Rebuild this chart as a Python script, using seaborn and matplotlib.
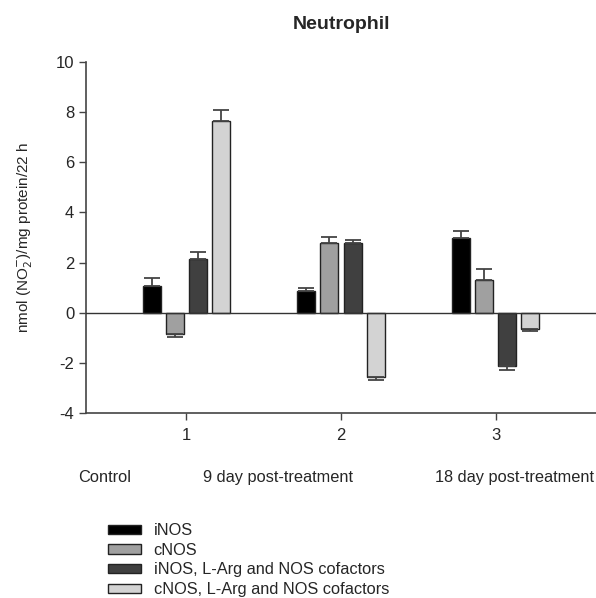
import numpy as np
import pandas as pd
import seaborn as sns
from matplotlib import pyplot as plt

groups = ['1', '2', '3']
group_names = ['Control', '9 day post-treatment', '18 day post-treatment']
series = ['iNOS', 'cNOS', 'iNOS, L-Arg and NOS cofactors', 'cNOS, L-Arg and NOS cofactors']
inos = [1.08, 0.85, 2.99]
cnos = [-0.86, 2.77, 1.29]
inos_arg = [2.14, 2.77, -2.13]
cnos_arg = [7.66, -2.55, -0.64]
inos_err = [0.32, 0.13, 0.27]
cnos_err = [0.11, 0.25, 0.45]
inos_arg_err = [0.28, 0.13, 0.16]
cnos_arg_err = [0.44, 0.14, 0.09]

vals = [inos, cnos, inos_arg, cnos_arg]
errs = [inos_err, cnos_err, inos_arg_err, cnos_arg_err]
df = pd.DataFrame({
    'group': [g for s in series for g in groups],
    'series': [s for s in series for g in groups],
    'value': [v for vs in vals for v in vs],
})
colors = {'iNOS': '#000000', 'cNOS': '#a0a0a0',
          'iNOS, L-Arg and NOS cofactors': '#404040',
          'cNOS, L-Arg and NOS cofactors': '#d3d3d3'}

sns.set_style('ticks')
plt.rcParams['font.family'] = ['Liberation Sans', 'DejaVu Sans']
plt.rcParams['axes.unicode_minus'] = False
fig = plt.figure(figsize=(5.96, 5.98), dpi=100)
ax = fig.add_axes([0.1443, 0.3094, 0.8557, 0.5869])
sns.barplot(data=df, x='group', y='value', hue='series', order=groups, hue_order=series,
            palette=colors, width=0.6, gap=0.22, edgecolor='#222222', linewidth=1,
            errorbar=None, legend=False, ax=ax)

# one-sided error bars, away from zero
for cont, err in zip(ax.containers, errs):
    for bar, e in zip(cont, err):
        xc = bar.get_x() + bar.get_width() / 2
        h = bar.get_height()
        yerr = [[0], [e]] if h >= 0 else [[e], [0]]
        ax.errorbar(xc, h, yerr=yerr, fmt='none', ecolor='#444444', elinewidth=1.3,
                    capsize=5.5, capthick=1.3, zorder=1)

ax.axhline(0, color='#333333', lw=1, zorder=3)
ax.set_ylim(-4, 10)
ax.set_yticks(range(-4, 11, 2))
ax.set_xlim(-0.65, 2.65)
ax.set_xlabel('')
ax.set_ylabel('nmol (NO$_2^{-}$)/mg protein/22 h', fontsize=11, labelpad=15)
ax.tick_params(labelsize=12, length=5, color='#444444', width=1)
ax.tick_params(axis='x', pad=6)
sns.despine(ax=ax)
for sp in ['left', 'bottom']:
    ax.spines[sp].set_color('#444444')
    ax.spines[sp].set_linewidth(1.2)
ax.set_title('Neutrophil', fontsize=14, fontweight='bold', pad=24)

for name, xpos in zip(group_names, [0.131, 0.3406, 0.730]):
    fig.text(xpos, 0.2007, name, ha='left', va='center', fontsize=11.8)

handles = [plt.Rectangle((0, 0), 1, 1, facecolor=colors[s], edgecolor='#222222', lw=1) for s in series]
fig.legend(handles, series, loc='upper left', bbox_to_anchor=(0.181, 0.125), frameon=False,
           fontsize=11.8, handlelength=2.05, handleheight=0.5, labelspacing=0.28,
           handletextpad=0.74, borderaxespad=0, borderpad=0)

fig.savefig('out.png', dpi=100)
